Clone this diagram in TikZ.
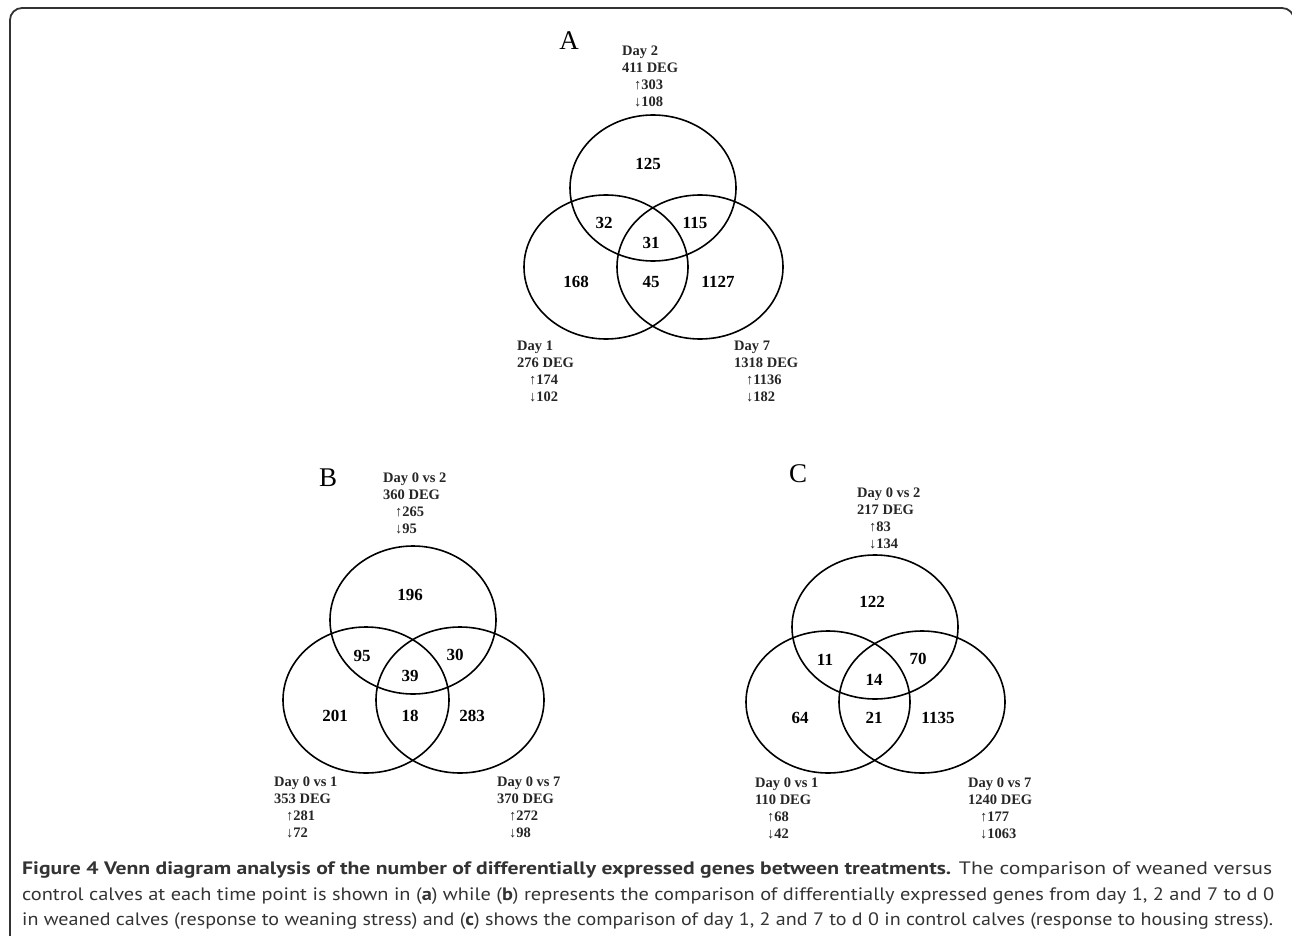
\documentclass[tikz,border=0pt]{standalone}
\usepackage{fontspec}
\setmainfont{Liberation Serif}
\newfontfamily\capfont{PT Sans}
\newsavebox\capbox
\newcommand\fitline[2]{\sbox\capbox{#2}\pgfmathsetmacro\capsx{#1/\the\wd\capbox}\scalebox{\capsx}[1]{\usebox\capbox}}
\tikzset{
  venn/.style={draw=black, line width=1.6pt},
  cnt/.style={font=\fontsize{17}{17}\selectfont\bfseries, inner sep=0pt},
  lab/.style={font=\fontsize{14.5}{17}\selectfont\bfseries, align=left, anchor=north west, inner sep=0pt, text=black!85},
  letter/.style={font=\fontsize{27}{27}\selectfont, inner sep=0pt},
  capline/.style={anchor=base west, inner sep=0pt, font=\fontsize{18}{18}\selectfont\capfont, text=black!80},
}
\newcommand\up{\hspace*{12pt}↑}
\newcommand\dn{\hspace*{12pt}↓}
\begin{document}
\begin{tikzpicture}[x=1pt,y=-1pt]
\useasboundingbox (0,0) rectangle (1292,936);
\clip (0,0) rectangle (1292,936);
\draw[line width=1.8pt, black!80, rounded corners=12pt] (10,960) -- (10,8) -- (1294,8) -- (1294,960);

% ---------- A ----------
\node[letter] (LA) at (569,41) {A};
\draw[venn] (653,188) ellipse [x radius=83, y radius=73];
\draw[venn] (606,267) ellipse [x radius=82, y radius=72];
\draw[venn] (700,267) ellipse [x radius=83, y radius=72];
\node[cnt] (a1) at (648,164) {125};
\node[cnt] (a2) at (604,223) {32};
\node[cnt] (a3) at (695,223) {115};
\node[cnt] (a4) at (651,243) {31};
\node[cnt] (a5) at (576,282) {168};
\node[cnt] (a6) at (651,282) {45};
\node[cnt] (a7) at (718,282) {1127};
\node[lab] (at) at (622,46) {Day 2\\411 DEG\\\up303\\\dn108};
\node[lab] (al) at (517,341) {Day 1\\276 DEG\\\up174\\\dn102};
\node[lab] (ar) at (734,341) {Day 7\\1318 DEG\\\up1136\\\dn182};

% ---------- B ----------
\node[letter] (LB) at (328,478) {B};
\draw[venn] (413,620) ellipse [x radius=83, y radius=74];
\draw[venn] (366,700) ellipse [x radius=83, y radius=73];
\draw[venn] (460,700) ellipse [x radius=84, y radius=73];
\node[cnt] (b1) at (410,595) {196};
\node[cnt] (b2) at (362,656) {95};
\node[cnt] (b3) at (455,655) {30};
\node[cnt] (b4) at (410,676) {39};
\node[cnt] (b5) at (335,716) {201};
\node[cnt] (b6) at (410,716) {18};
\node[cnt] (b7) at (472,716) {283};
\node[lab] (bt) at (383,473) {Day 0 vs 2\\360 DEG\\\up265\\\dn95};
\node[lab] (bl) at (274,777) {Day 0 vs 1\\353 DEG\\\up281\\\dn72};
\node[lab] (br) at (497,777) {Day 0 vs 7\\370 DEG\\\up272\\\dn98};

% ---------- C ----------
\node[letter] (LC) at (798,474) {C};
\draw[venn] (875,627) ellipse [x radius=83, y radius=72];
\draw[venn] (828,702) ellipse [x radius=82, y radius=71];
\draw[venn] (922,702) ellipse [x radius=83, y radius=71];
\node[cnt] (c1) at (872,602) {122};
\node[cnt] (c2) at (825,660) {11};
\node[cnt] (c3) at (918,659) {70};
\node[cnt] (c4) at (874,680) {14};
\node[cnt] (c5) at (800,718) {64};
\node[cnt] (c6) at (874,718) {21};
\node[cnt] (c7) at (938,718) {1135};
\node[lab] (ct) at (857,488) {Day 0 vs 2\\217 DEG\\\up83\\\dn134};
\node[lab] (cl) at (755,778) {Day 0 vs 1\\110 DEG\\\up68\\\dn42};
\node[lab] (cr) at (968,778) {Day 0 vs 7\\1240 DEG\\\up177\\\dn1063};

% ---------- caption ----------
\node[capline] (cap1) at (22,874) {\fitline{1250}{\textbf{Figure 4 Venn diagram analysis of the number of differentially expressed genes between treatments.} The comparison of weaned versus}};
\node[capline] (cap2) at (22,900) {\fitline{1252}{control calves at each time point is shown in (\textbf{a}) while (\textbf{b}) represents the comparison of differentially expressed genes from day 1, 2 and 7 to d 0}};
\node[capline] (cap3) at (22,925) {\fitline{1251}{in weaned calves (response to weaning stress) and (\textbf{c}) shows the comparison of day 1, 2 and 7 to d 0 in control calves (response to housing stress).}};
\end{tikzpicture}
\end{document}
